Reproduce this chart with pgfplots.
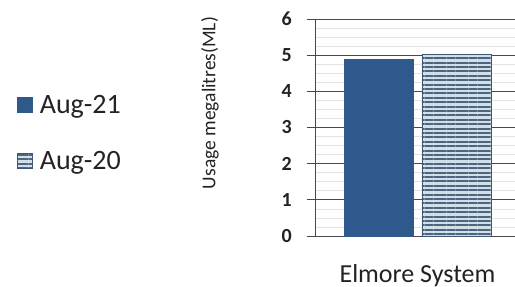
\documentclass[border=0pt]{standalone}
\usepackage{pgfplots}
\pgfplotsset{compat=1.18}
\usepackage{fontspec}
\setmainfont{Carlito}
\usetikzlibrary{patterns.meta}
\definecolor{barblue}{RGB}{47,88,140}
\definecolor{hatchdark}{RGB}{80,100,125}
\definecolor{hatchlight}{RGB}{208,224,234}
\definecolor{hatchborder}{RGB}{62,86,116}
\definecolor{gridmajor}{RGB}{70,73,78}
\definecolor{gridminor}{RGB}{226,226,226}
\definecolor{txt}{RGB}{35,35,35}
\begin{document}
\begin{tikzpicture}[x=1pt,y=1pt]
\useasboundingbox (0,0) rectangle (515,287);
\begin{axis}[
  scale only axis,
  at={(316pt,51pt)}, anchor=south west,
  width=199pt, height=217pt,
  xmin=316, xmax=515, ymin=0, ymax=6,
  axis y line*=left, axis x line*=bottom,
  axis line style={gridmajor, line width=1pt},
  ybar, bar width=69,
  ytick={0,1,2,3,4,5,6},
  minor y tick num=3,
  ymajorgrids, yminorgrids,
  major grid style={gridmajor, line width=1pt},
  minor grid style={gridminor, line width=0.6pt},
  tick align=outside,
  major tick length=9pt, minor tick length=0pt,
  ytick style={gridmajor, line width=1pt},
  yticklabel style={font=\fontsize{20}{22}\selectfont\bfseries, text=txt, anchor=east, inner sep=0pt, xshift=-15pt},
  /pgf/number format/assume math mode=true,
  xtick={417.5}, xticklabels={Elmore System},
  xtick style={draw=none},
  xticklabel style={font=\fontsize{26}{28}\selectfont, text=txt, anchor=base, yshift=-37pt},
  legend style={draw=none, fill=none, at={(-1.5025,0.6544)}, anchor=north west,
    font=\fontsize{28}{30}\selectfont, text=txt, row sep=34pt, inner sep=0pt,
    nodes={inner sep=1pt}},
  legend cell align=left,
  sq/.style={legend image code/.code={\draw[##1, line width=0.6pt] (0pt,-7.5pt) rectangle (15pt,7.5pt);}},
]
\addplot[ybar, bar shift=0pt, fill=barblue, draw=barblue, sq] coordinates {(378.5,4.90)};
\addlegendentry{\hspace{6pt}Aug-21}
\addplot[ybar, bar shift=0pt, fill=hatchlight, draw=hatchborder, line width=0.8pt,
  postaction={pattern={Lines[angle=0,distance=4.4pt,line width=2pt]}, pattern color=hatchdark}, sq] coordinates {(456.5,5.03)};
\addlegendentry{\hspace{6pt}Aug-20}
\end{axis}
\node[rotate=90, font=\fontsize{19.5}{21}\selectfont, text=txt, inner sep=0pt] at (210,184) {Usage megalitres(ML)};
\end{tikzpicture}
\end{document}
